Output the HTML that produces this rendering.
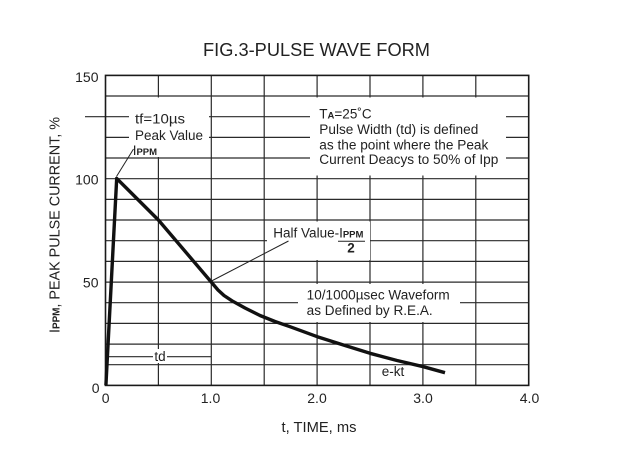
<!DOCTYPE html>
<html><head><meta charset="utf-8"><style>
html,body{margin:0;padding:0;background:#fff;}
svg{display:block;}
text{font-family:"Liberation Sans",Arial,sans-serif;fill:#222;}
</style></head><body>
<svg width="618" height="461" viewBox="0 0 618 461" xmlns="http://www.w3.org/2000/svg">
<rect width="618" height="461" fill="#fff"/>
<text x="316.5" y="56" font-size="18" text-anchor="middle" textLength="227" lengthAdjust="spacingAndGlyphs">FIG.3-PULSE WAVE FORM</text>
<g stroke="#2a2a2a" stroke-width="1.2" fill="none">
<line x1="105.5" y1="364.7" x2="528.7" y2="364.7"/>
<line x1="105.5" y1="344.1" x2="528.7" y2="344.1"/>
<line x1="105.5" y1="323.4" x2="528.7" y2="323.4"/>
<line x1="105.5" y1="302.7" x2="528.7" y2="302.7"/>
<line x1="105.5" y1="282.1" x2="528.7" y2="282.1"/>
<line x1="105.5" y1="261.4" x2="528.7" y2="261.4"/>
<line x1="105.5" y1="240.7" x2="528.7" y2="240.7"/>
<line x1="105.5" y1="220.0" x2="528.7" y2="220.0"/>
<line x1="105.5" y1="199.4" x2="528.7" y2="199.4"/>
<line x1="105.5" y1="178.7" x2="528.7" y2="178.7"/>
<line x1="105.5" y1="158.0" x2="528.7" y2="158.0"/>
<line x1="105.5" y1="137.4" x2="528.7" y2="137.4"/>
<line x1="85" y1="116.7" x2="528.7" y2="116.7"/>
<line x1="105.5" y1="96.0" x2="528.7" y2="96.0"/>
<line x1="158.4" y1="75.4" x2="158.4" y2="385.4"/>
<line x1="211.3" y1="75.4" x2="211.3" y2="385.4"/>
<line x1="264.2" y1="75.4" x2="264.2" y2="385.4"/>
<line x1="317.1" y1="75.4" x2="317.1" y2="385.4"/>
<line x1="370.0" y1="75.4" x2="370.0" y2="385.4"/>
<line x1="422.9" y1="75.4" x2="422.9" y2="385.4"/>
<line x1="475.8" y1="75.4" x2="475.8" y2="385.4"/>
</g>
<!-- white label boxes -->
<g fill="#fff">
<rect x="129" y="97.5" width="80" height="59.5"/>
<rect x="310" y="97.5" width="196" height="78"/>
<rect x="267" y="221.5" width="103" height="38.5"/>
<rect x="298" y="284" width="162" height="38"/>
<rect x="153" y="349" width="14" height="14"/>
</g>
<rect x="105.5" y="75.4" width="423.2" height="310" fill="none" stroke="#1a1a1a" stroke-width="1.6"/>
<!-- td dimension line -->
<g stroke="#2a2a2a" stroke-width="1.1">
<line x1="109" y1="356.7" x2="153" y2="356.7"/>
<line x1="167" y1="356.7" x2="211" y2="356.7"/>
</g>
<!-- leader lines -->
<g stroke="#222" stroke-width="1">
<line x1="116.5" y1="176.5" x2="133.5" y2="149"/>
<line x1="211.5" y1="281" x2="288.5" y2="241"/>
<line x1="338" y1="241.2" x2="365" y2="241.2"/>
</g>
<!-- curve -->
<polyline fill="none" stroke="#111" stroke-width="3.4" stroke-linejoin="round" stroke-linecap="butt"
points="105.9,385.4 116.7,178.4 158.4,220 211.3,282.1 218,290 224,295.5 232,300.8 245,308 260,315.5 275,321.5 290,326.7 317.3,336.7 345,345.5 370,353.3 397,360.5 423.3,366.7 445,372.7"/>
<!-- y tick labels -->
<g font-size="14" text-anchor="end">
<text x="98.5" y="81.8">150</text>
<text x="98.5" y="184.5">100</text>
<text x="98.5" y="287.5">50</text>
<text x="99.5" y="393">0</text>
</g>
<!-- x tick labels -->
<g font-size="14" text-anchor="middle">
<text x="105.7" y="403">0</text>
<text x="210.5" y="403">1.0</text>
<text x="317" y="403">2.0</text>
<text x="423" y="403">3.0</text>
<text x="529.5" y="403">4.0</text>
</g>
<text x="319" y="432" font-size="15" text-anchor="middle" textLength="75" lengthAdjust="spacingAndGlyphs">t, TIME, ms</text>
<!-- y axis label -->
<text transform="translate(59.5,333) rotate(-90)" font-size="14.5" textLength="216" lengthAdjust="spacingAndGlyphs">I<tspan font-size="10" font-weight="bold">PPM</tspan>, PEAK PULSE CURRENT, %</text>
<!-- annotations -->
<g font-size="13.5">
<text x="135" y="123.3" textLength="50" lengthAdjust="spacingAndGlyphs">tf=10µs</text>
<text x="135" y="140" textLength="68" lengthAdjust="spacingAndGlyphs">Peak Value</text>
<text x="132.7" y="155">I<tspan font-size="9.5" font-weight="bold">PPM</tspan></text>
<text x="319.3" y="118.3">T<tspan font-size="9.5" font-weight="bold">A</tspan>=25˚C</text>
<text x="319.3" y="134" textLength="159" lengthAdjust="spacingAndGlyphs">Pulse Width (td) is defined</text>
<text x="319.3" y="149.3" textLength="169" lengthAdjust="spacingAndGlyphs">as the point where the Peak</text>
<text x="319.3" y="164" textLength="179" lengthAdjust="spacingAndGlyphs">Current Deacys to 50% of Ipp</text>
<text x="273.3" y="237.3">Half Value-I<tspan font-size="9.5" font-weight="bold">PPM</tspan></text>
<text x="351" y="252.7" text-anchor="middle" font-weight="bold">2</text>
<text x="306.7" y="299.3" textLength="143" lengthAdjust="spacingAndGlyphs">10/1000µsec Waveform</text>
<text x="306.7" y="315" textLength="126" lengthAdjust="spacingAndGlyphs">as Defined by R.E.A.</text>
<text x="160" y="361" text-anchor="middle">td</text>
<text x="381.7" y="376">e-kt</text>
</g>
</svg>
</body></html>
